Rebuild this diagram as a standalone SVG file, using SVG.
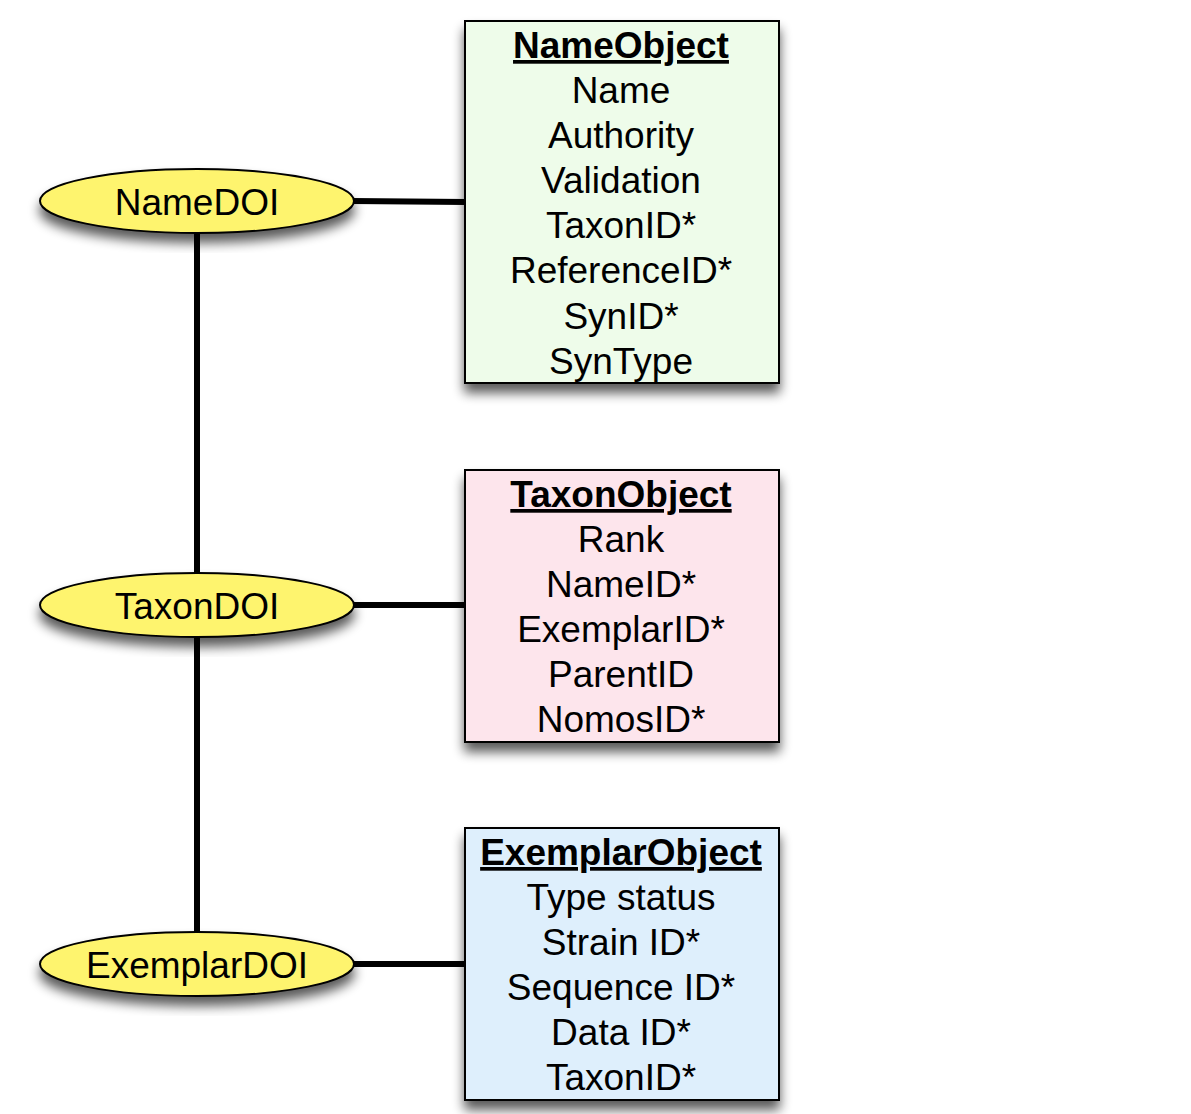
<svg xmlns="http://www.w3.org/2000/svg" width="1191" height="1114" viewBox="0 0 1191 1114">
  <defs>
    <filter id="shadow" x="-20%" y="-20%" width="140%" height="150%">
      <feGaussianBlur in="SourceAlpha" stdDeviation="6"/>
      <feOffset dx="0" dy="9" result="blur"/>
      <feComponentTransfer><feFuncA type="linear" slope="0.65"/></feComponentTransfer>
      <feMerge><feMergeNode/><feMergeNode in="SourceGraphic"/></feMerge>
    </filter>
  </defs>
  <style>
    .box { stroke: #000; stroke-width: 2; filter: url(#shadow); }
    .doi { fill: #FEF46E; stroke: #000; stroke-width: 2; filter: url(#shadow); }
    .link { stroke: #000; stroke-width: 6; fill: none; }
    text { font-family: "Liberation Sans", Arial, sans-serif; font-size: 37px; fill: #000; text-anchor: middle; }
    .title { font-weight: bold; text-decoration: underline; font-size: 37px; }
  </style>
  <rect width="1191" height="1114" fill="#fff"/>

  <!-- connectors -->
  <g id="connectors">
    <line class="link" x1="197" y1="225" x2="197" y2="580"/>
    <line class="link" x1="197" y1="630" x2="197" y2="940"/>
    <path class="link" d="M352 201 L466 202"/>
    <line class="link" x1="352" y1="605" x2="466" y2="605"/>
    <line class="link" x1="352" y1="964" x2="466" y2="964"/>
  </g>

  <!-- DOI ellipses -->
  <g id="name-doi">
    <ellipse class="doi" cx="197" cy="201" rx="157" ry="32"/>
    <text x="197" y="215">NameDOI</text>
  </g>
  <g id="taxon-doi">
    <ellipse class="doi" cx="197" cy="605" rx="157" ry="32"/>
    <text x="197" y="619">TaxonDOI</text>
  </g>
  <g id="exemplar-doi">
    <ellipse class="doi" cx="197" cy="964" rx="157" ry="32"/>
    <text x="197" y="978">ExemplarDOI</text>
  </g>

  <!-- object tables -->
  <g id="name-object">
    <rect class="box" x="465" y="21" width="314" height="362" fill="#EEFCEA"/>
    <text class="title" x="621" y="58">NameObject</text>
    <text x="621" y="103">Name</text>
    <text x="621" y="148">Authority</text>
    <text x="621" y="193">Validation</text>
    <text x="621" y="238">TaxonID*</text>
    <text x="621" y="283">ReferenceID*</text>
    <text x="621" y="329">SynID*</text>
    <text x="621" y="374">SynType</text>
  </g>
  <g id="taxon-object">
    <rect class="box" x="465" y="470" width="314" height="272" fill="#FDE5EC"/>
    <text class="title" x="621" y="507">TaxonObject</text>
    <text x="621" y="552">Rank</text>
    <text x="621" y="597">NameID*</text>
    <text x="621" y="642">ExemplarID*</text>
    <text x="621" y="687">ParentID</text>
    <text x="621" y="732">NomosID*</text>
  </g>
  <g id="exemplar-object">
    <rect class="box" x="465" y="828" width="314" height="272" fill="#DEEFFC"/>
    <text class="title" x="621" y="865">ExemplarObject</text>
    <text x="621" y="910">Type status</text>
    <text x="621" y="955">Strain ID*</text>
    <text x="621" y="1000">Sequence ID*</text>
    <text x="621" y="1045">Data ID*</text>
    <text x="621" y="1090">TaxonID*</text>
  </g>
</svg>
